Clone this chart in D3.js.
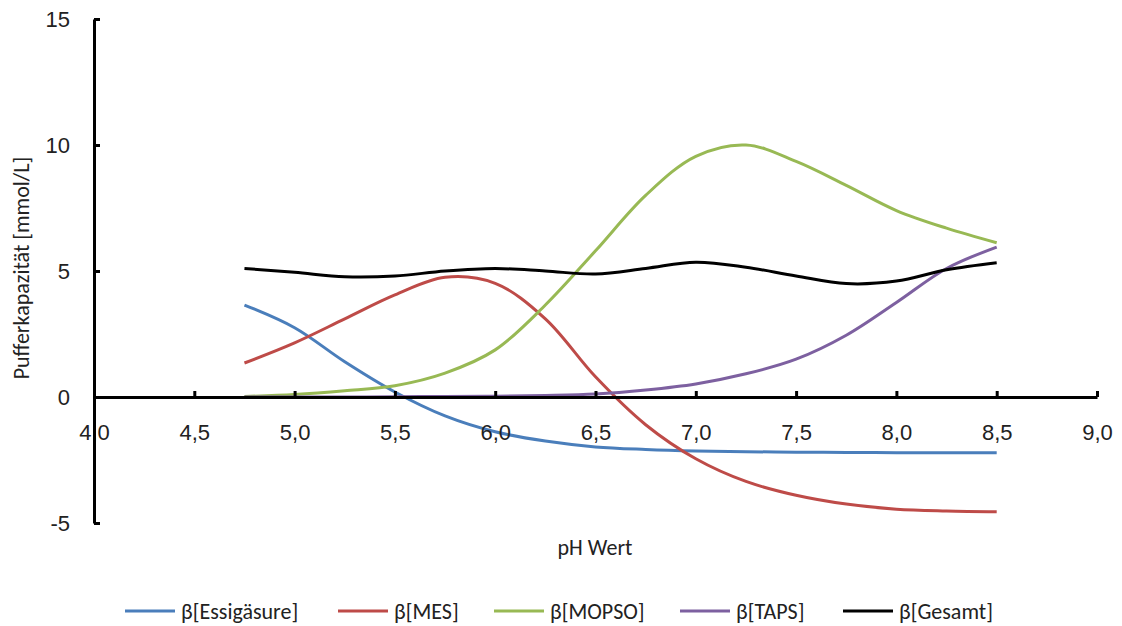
<!DOCTYPE html>
<html>
<head>
<meta charset="utf-8">
<script src="https://cdn.jsdelivr.net/npm/d3@7"></script>
<style>
  body { margin: 0; background: #fff; }
  svg { font-family: Carlito, Lato, "Liberation Sans", sans-serif; }
</style>
</head>
<body>
<svg id="chart" width="1122" height="626"></svg>
<script>
// data
const ph = [4.75, 5.0, 5.25, 5.5, 5.75, 6.0, 6.25, 6.5, 6.75, 7.0, 7.25, 7.5, 7.75, 8.0, 8.25, 8.5];
const essig = [3.65, 2.75, 1.4, 0.2, -0.75, -1.38, -1.75, -1.98, -2.08, -2.14, -2.17, -2.19, -2.2, -2.21, -2.21, -2.21];
const mes = [1.35, 2.15, 3.1, 4.05, 4.75, 4.51, 3.1, 0.8, -1.1, -2.45, -3.35, -3.9, -4.25, -4.45, -4.52, -4.55];
const mopso = [0.02, 0.1, 0.25, 0.45, 0.95, 1.87, 3.65, 5.8, 8.0, 9.55, 10.0, 9.35, 8.4, 7.4, 6.7, 6.12];
const taps = [0, 0, 0, 0.01, 0.02, 0.03, 0.06, 0.12, 0.28, 0.52, 0.92, 1.5, 2.45, 3.75, 5.1, 5.95];
const gesamt = [5.1, 4.95, 4.77, 4.8, 5.0, 5.1, 5.0, 4.88, 5.1, 5.35, 5.15, 4.8, 4.5, 4.6, 5.05, 5.33];

const series_names = ['β[Essigäsure]', 'β[MES]', 'β[MOPSO]', 'β[TAPS]', 'β[Gesamt]'];
const series_vals = [essig, mes, mopso, taps, gesamt];
const colors = ['#4a7ebb', '#be4b48', '#98b954', '#7d60a0', '#000000'];

const x_ticks = [4.0, 4.5, 5.0, 5.5, 6.0, 6.5, 7.0, 7.5, 8.0, 8.5, 9.0];
const y_ticks = [-5, 0, 5, 10, 15];

const svg = d3.select('#chart');

const x = d3.scaleLinear().domain([4, 9]).range([94, 1097]);
const y = d3.scaleLinear().domain([-5, 15]).range([523, 19]);

const fmt = d3.format('.1f');
const fs = '22px';

// lines
const line = d3.line()
  .x((d) => x(d[0]))
  .y((d) => y(d[1]))
  .curve(d3.curveCatmullRom.alpha(0.5));

series_vals.forEach((vals, i) => {
  svg.append('path')
    .datum(ph.map((p, j) => [p, vals[j]]))
    .attr('fill', 'none')
    .attr('stroke', colors[i])
    .attr('stroke-width', 3)
    .attr('d', line);
});

// x axis, crossing at y = 0, ticks pointing up
const xa = svg.append('g')
  .attr('transform', `translate(0, ${y(0)})`)
  .call(d3.axisBottom(x).tickValues(x_ticks).tickSizeInner(-6).tickSizeOuter(0)
    .tickFormat((d) => fmt(d).replace('.', ',')));
xa.select('.domain').attr('stroke-width', 3);
xa.selectAll('.tick line').attr('stroke-width', 3);
xa.selectAll('.tick').filter((d) => d === 4).select('line').remove();
xa.selectAll('text')
  .attr('y', 35).attr('dy', '0.35em')
  .attr('fill', '#222').style('font-size', fs);

// y axis, ticks pointing right
const ya = svg.append('g')
  .attr('transform', `translate(${x(4)}, 0)`)
  .call(d3.axisLeft(y).tickValues(y_ticks).tickSizeInner(-6).tickSizeOuter(0)
    .tickFormat((d) => String(d)));
ya.select('.domain').attr('stroke-width', 3);
ya.selectAll('.tick line').attr('stroke-width', 3);
ya.selectAll('text')
  .attr('x', -24)
  .attr('fill', '#222').style('font-size', fs);

// axis titles
svg.append('text')
  .attr('x', 595).attr('y', 547).attr('dy', '0.35em')
  .attr('text-anchor', 'middle')
  .style('font-size', fs).attr('fill', '#222')
  .text('pH Wert');

svg.append('text')
  .attr('transform', 'translate(21, 268) rotate(-90)')
  .attr('dy', '0.35em')
  .attr('text-anchor', 'middle')
  .style('font-size', fs).attr('fill', '#222')
  .text('Pufferkapazität [mmol/L]');

// legend
const leg_x = [125, 338, 494, 680, 843];
const leg = svg.append('g');
series_names.forEach((name, i) => {
  leg.append('line')
    .attr('x1', leg_x[i]).attr('x2', leg_x[i] + 50)
    .attr('y1', 611).attr('y2', 611)
    .attr('stroke', colors[i]).attr('stroke-width', 3);
  leg.append('text')
    .attr('x', leg_x[i] + 56).attr('y', 611).attr('dy', '0.35em')
    .style('font-size', fs).attr('fill', '#222')
    .text(name);
});
</script>
</body>
</html>
